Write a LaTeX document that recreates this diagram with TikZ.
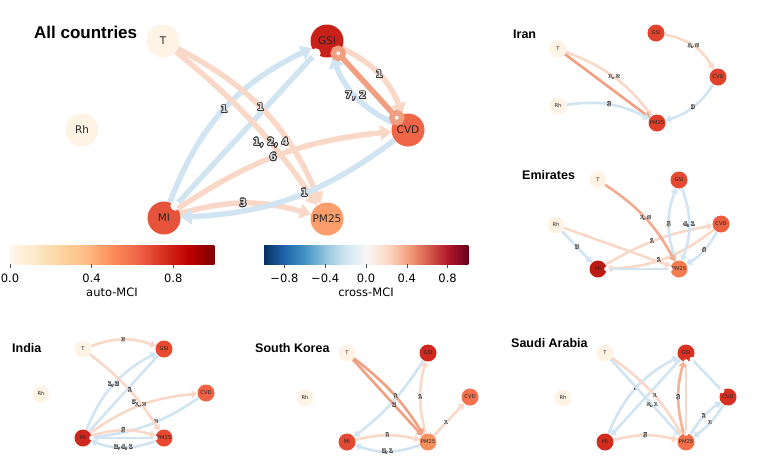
\documentclass[tikz,border=0pt]{standalone}
\usepackage{fontspec}
\setmainfont{DejaVu Sans}
\newfontfamily\titlefont{Liberation Sans}
\usepackage{contour}
\usetikzlibrary{arrows.meta}

% node and link colours
\definecolor{nodecream}{RGB}{254,243,228}
\definecolor{linkblue}{RGB}{208,228,241}
\definecolor{linkorange}{RGB}{250,216,199}
\definecolor{linkdark}{RGB}{240,160,128}
\definecolor{allGSI}{RGB}{200,33,26}
\definecolor{allCVD}{RGB}{239,101,72}
\definecolor{allMI}{RGB}{229,83,58}
\definecolor{allPM}{RGB}{252,158,108}
\definecolor{irGSI}{RGB}{224,66,44}
\definecolor{irCVD}{RGB}{224,66,44}
\definecolor{irPM}{RGB}{222,62,42}
\definecolor{emGSI}{RGB}{227,74,51}
\definecolor{emCVD}{RGB}{236,94,64}
\definecolor{emMI}{RGB}{190,26,20}
\definecolor{emPM}{RGB}{245,124,78}
\definecolor{inGSI}{RGB}{232,74,48}
\definecolor{inCVD}{RGB}{240,96,69}
\definecolor{inMI}{RGB}{204,40,30}
\definecolor{inPM}{RGB}{232,72,47}
\definecolor{krGSI}{RGB}{208,40,30}
\definecolor{krCVD}{RGB}{244,113,80}
\definecolor{krMI}{RGB}{227,74,51}
\definecolor{krPM}{RGB}{248,144,94}
\definecolor{saGSI}{RGB}{217,50,35}
\definecolor{saCVD}{RGB}{216,48,32}
\definecolor{saMI}{RGB}{210,44,31}
\definecolor{saPM}{RGB}{244,111,74}
% colour bar stops
\definecolor{orrd0}{RGB}{255,247,236}
\definecolor{orrd1}{RGB}{254,232,200}
\definecolor{orrd2}{RGB}{253,212,158}
\definecolor{orrd3}{RGB}{253,187,132}
\definecolor{orrd4}{RGB}{252,141,89}
\definecolor{orrd5}{RGB}{239,101,72}
\definecolor{orrd6}{RGB}{215,48,31}
\definecolor{orrd7}{RGB}{190,0,0}
\definecolor{orrd8}{RGB}{127,0,0}
\definecolor{rdbu0}{RGB}{5,48,97}
\definecolor{rdbu1}{RGB}{33,102,172}
\definecolor{rdbu2}{RGB}{67,147,195}
\definecolor{rdbu3}{RGB}{146,197,222}
\definecolor{rdbu4}{RGB}{209,229,240}
\definecolor{rdbu5}{RGB}{247,247,247}
\definecolor{rdbu6}{RGB}{253,219,199}
\definecolor{rdbu7}{RGB}{244,165,130}
\definecolor{rdbu8}{RGB}{214,96,77}
\definecolor{rdbu9}{RGB}{178,24,43}
\definecolor{rdbu10}{RGB}{103,0,31}

\newcommand{\edgetxt}[1]{{\contourlength{0.7pt}\contour{black!80}{\textcolor{black!12}{#1}}}}
\newcommand{\smalltxt}[1]{{\contourlength{0.3pt}\contour{black!70}{\textcolor{black!25}{#1}}}}

\tikzset{
  varnode/.style={circle, inner sep=0pt, minimum size=33pt, text=black!85,
    font=\fontsize{10.5}{12}\selectfont},
  smallvar/.style={circle, inner sep=0pt, minimum size=17pt, text=black!85,
    font=\fontsize{5.2}{6}\selectfont},
  bigedge/.style={line width=5.5pt, -{Triangle[length=11pt,width=15pt]}},
  bigline/.style={line width=5.5pt},
  smalledge/.style={line width=2.6pt, -{Triangle[length=5.5pt,width=7.5pt]}},
  smallline/.style={line width=2.6pt},
  biglab/.style={inner sep=0pt, font=\bfseries\fontsize{10}{12}\selectfont},
  smalllab/.style={inner sep=0pt, font=\bfseries\fontsize{5.2}{6}\selectfont},
  odot/.style={circle, fill=white, inner sep=0pt, minimum size=10pt},
  sodot/.style={circle, fill=white, inner sep=0pt, minimum size=5pt},
  paneltitle/.style={anchor=west, inner sep=0pt,
    font=\titlefont\bfseries\fontsize{12.5}{14}\selectfont},
  ticklab/.style={inner sep=0pt, font=\fontsize{11.5}{13}\selectfont}
}

\begin{document}
\begin{tikzpicture}[x=1pt, y=-1pt]
\useasboundingbox (0,0) rectangle (764,456);

% ── All countries ───────────────────────────────────────────────
\node[paneltitle, font=\titlefont\bfseries\fontsize{17}{20}\selectfont] (tAll) at (34,32) {All countries};
\foreach \n/\x/\y/\c in {T/163/41/nodecream, GSI/327/41/allGSI, Rh/82/130/nodecream,
    CVD/408/130/allCVD, MI/164/218/allMI, PM25/327/219/allPM}
  \node[varnode, fill=\c] (m\n) at (\x,\y) {\n};

\draw[bigedge, linkblue] (mMI) to[bend left=22] node[biglab] (lm1) {\edgetxt{1}} (mGSI);
\draw[bigline, linkblue] (mMI) -- (mGSI) node[odot, at start] (om1) {} node[odot, at end] (om2) {};
\draw[bigedge, linkblue] (mCVD) to[bend left=22] node[biglab] (lm3) {\edgetxt{7, 2}} (mGSI);
\draw[bigedge, linkorange] (mT) to[bend left=20] node[biglab, pos=0.47] (lm4) {\edgetxt{1}} (mPM25);
\draw[bigedge, linkorange] (mT) to[bend left=8] node[biglab, pos=0.64] (lm5) {\edgetxt{1, 2, 4}} (mPM25);
\draw[bigedge, linkorange] (mMI) to[bend left=14] node[biglab, pos=0.47] (lm6) {\edgetxt{6}} (mCVD);
\draw[bigedge, linkorange] (mMI) to[bend left=16] node[biglab, pos=0.48] (lm7) {\edgetxt{3}} (mPM25);
\draw[bigedge, linkblue] (mCVD) to[bend left=17] node[biglab, pos=0.45] (lm2) {\edgetxt{1}} (mMI);
\draw[bigedge, linkorange] (mGSI) to[bend left=22] node[biglab] (lm8) {\edgetxt{1}} (mCVD);
\draw[bigline, linkdark] (mGSI) -- (mCVD) node[odot, draw=linkdark, at start] (om3) {} node[odot, draw=linkdark, at end] (om4) {};

% ── colour bars ─────────────────────────────────────────────────
\foreach \i [evaluate=\i as \j using int(\i+1)] in {0,...,7}
  \shade[left color=orrd\i, right color=orrd\j] ({10+25.5*\i},245) rectangle ({10.4+25.5*\j},264);
\foreach \v/\t [count=\k] in {0/0.0, 0.4/0.4, 0.8/0.8} {
  \draw[black!70, line width=0.6pt] ({10+204*\v},264) -- ({10+204*\v},268);
  \node[ticklab] (ta\k) at ({10+204*\v},278) {\t};
}
\node[ticklab] (cbAuto) at (112,292) {auto-MCI};

\foreach \i [evaluate=\i as \j using int(\i+1)] in {0,...,9}
  \shade[left color=rdbu\i, right color=rdbu\j] ({264+20.4*\i},245) rectangle ({264.4+20.4*\j},264);
\foreach \v/\t [count=\k] in {-0.8/−0.8, -0.4/−0.4, 0/0.0, 0.4/0.4, 0.8/0.8} {
  \draw[black!70, line width=0.6pt] ({366+102*\v},264) -- ({366+102*\v},268);
  \node[ticklab] (tc\k) at ({366+102*\v},278) {\t};
}
\node[ticklab] (cbCross) at (366,292) {cross-MCI};

% ── Iran ────────────────────────────────────────────────────────
\node[paneltitle] (tIran) at (513,34) {Iran};
\foreach \n/\x/\y/\c in {T/558/49/nodecream, GSI/656/33/irGSI, CVD/718/77/irCVD,
    Rh/558/106/nodecream, PM25/657/123/irPM}
  \node[smallvar, fill=\c] (i\n) at (\x,\y) {\n};
\draw[smalledge, linkorange] (iT) to[bend left=16] node[smalllab] (li1) {\smalltxt{1, 2}} (iPM25);
\draw[smalledge, linkdark] (iT) -- (iPM25);
\draw[smalledge, linkblue] (iRh) to[bend left=18] node[smalllab] (li2) {\smalltxt{3}} (iPM25);
\draw[smalledge, linkorange] (iGSI) to[bend left=25] node[smalllab] (li3) {\smalltxt{3, 6}} (iCVD);
\draw[smalledge, linkblue] (iCVD) to[bend left=20] node[smalllab] (li4) {\smalltxt{3}} (iPM25);

% ── Emirates ────────────────────────────────────────────────────
\node[paneltitle] (tEmirates) at (522,175) {Emirates};
\begin{scope}[shift={(598,180)}]
\foreach \n/\x/\y/\c in {T/0/0/nodecream, GSI/81/0/emGSI, Rh/-42/45/nodecream,
    CVD/123/44/emCVD, MI/0/89/emMI, PM25/81/89/emPM}
  \node[smallvar, fill=\c] (e\n) at (\x,\y) {\n};
\end{scope}
\draw[smalledge, linkblue] (eRh) -- node[smalllab] (le1) {\smalltxt{3}} (eMI);
\draw[smalledge, linkorange] (eRh) -- (ePM25);
\draw[smalledge, linkorange] (eMI) to[bend left=10] node[smalllab, pos=0.45] (le2) {\smalltxt{1}} (eCVD);
\draw[smalledge, linkorange] (eCVD) to[bend left=18] node[smalllab, pos=0.55] (le3) {\smalltxt{1}} (eMI);
\draw[smallline, linkblue] (ePM25) -- (eMI) node[sodot, at start] (oe1) {} node[sodot, at end] (oe2) {};
\draw[smalledge, linkblue] (ePM25) to[bend left=20] node[smalllab] (le4) {\smalltxt{3}} (eGSI);
\draw[smalledge, linkblue] (eGSI) to[bend left=20] node[smalllab] (le5) {\smalltxt{4, 1}} (ePM25);
\draw[smalledge, linkblue] (eCVD) to[bend left=15] node[smalllab] (le6) {\smalltxt{4}} (ePM25);
\draw[smalledge, linkdark!80!linkorange] (eT) to[bend left=14] node[smalllab] (le7) {\smalltxt{1, 6}} (ePM25);

% ── India ───────────────────────────────────────────────────────
\node[paneltitle] (tIndia) at (12,348) {India};
\begin{scope}[shift={(83,349)}]
\foreach \n/\x/\y/\c in {T/0/0/nodecream, GSI/81/0/inGSI, Rh/-42/45/nodecream,
    CVD/123/44/inCVD, MI/0/89/inMI, PM25/81/89/inPM}
  \node[smallvar, fill=\c] (n\n) at (\x,\y) {\n};
\end{scope}
\draw[smalledge, linkorange] (nT) to[bend left=20] node[smalllab] (ln1) {\smalltxt{3}} (nGSI);
\draw[smalledge, linkblue] (nMI) to[bend left=20] node[smalllab] (ln2) {\smalltxt{1, 2}} (nGSI);
\draw[smallline, linkblue] (nGSI) -- (nMI);
\draw[smalledge, linkblue] (nCVD) to[bend left=14] node[smalllab, pos=0.42] (ln3) {\smalltxt{3}} (nMI);
\draw[smalledge, linkorange] (nT) to[bend left=10] node[smalllab, pos=0.52] (ln4) {\smalltxt{1}} (nPM25);
\draw[smalledge, linkorange] (nMI) to[bend left=15] node[smalllab, pos=0.5] (ln5) {\smalltxt{1, 2}}
  node[smalllab, pos=0.43, yshift=6pt] (ln6) {\smalltxt{2}} (nCVD);
\draw[smalledge, linkorange] (nMI) to[bend left=16] node[smalllab] (ln7) {\smalltxt{3}} (nPM25);
\draw[smallline, linkblue] (nPM25) -- (nMI) node[sodot, at start] (on1) {} node[sodot, at end] (on2) {};
\draw[smalledge, linkblue] (nPM25) to[bend left=20] node[smalllab] (ln8) {\smalltxt{2, 4, 1}} (nMI);

% ── South Korea ─────────────────────────────────────────────────
\node[paneltitle] (tKorea) at (255,348) {South Korea};
\begin{scope}[shift={(347,353)}]
\foreach \n/\x/\y/\c in {T/0/0/nodecream, GSI/81/0/krGSI, Rh/-42/45/nodecream,
    CVD/123/44/krCVD, MI/0/89/krMI, PM25/81/89/krPM}
  \node[smallvar, fill=\c] (k\n) at (\x,\y) {\n};
\end{scope}
\draw[smalledge, linkblue] (kGSI) to[bend left=10] (kMI);
\draw[smalledge, linkorange] (kPM25) to[bend left=15] node[smalllab] (lk1) {\smalltxt{1}} (kGSI);
\draw[smalledge, linkorange] (kPM25) -- node[smalllab, pos=0.4] (lk2) {\smalltxt{1}} (kCVD);
\draw[smalledge, linkorange] (kMI) to[bend left=14] node[smalllab] (lk3) {\smalltxt{1}} (kPM25);
\draw[smalledge, linkblue] (kPM25) to[bend left=20] node[smalllab] (lk4) {\smalltxt{3, 1}} (kMI);
\draw[smalledge, linkdark] (kT) to[bend left=10] node[smalllab, pos=0.55] (lk5) {\smalltxt{1}} (kPM25);
\draw[smalledge, linkdark] (kT) -- node[smalllab, pos=0.6] (lk6) {\smalltxt{2}} (kPM25);

% ── Saudi Arabia ────────────────────────────────────────────────
\node[paneltitle] (tSaudi) at (511,343) {Saudi Arabia};
\begin{scope}[shift={(605,353)}]
\foreach \n/\x/\y/\c in {T/0/0/nodecream, GSI/81/0/saGSI, Rh/-42/45/nodecream,
    CVD/123/44/saCVD, MI/0/89/saMI, PM25/81/89/saPM}
  \node[smallvar, fill=\c] (s\n) at (\x,\y) {\n};
\end{scope}
\draw[smalledge, linkblue] (sMI) to[bend left=20] node[smalllab] (ls1) {\smalltxt{1}} (sGSI);
\draw[smalledge, linkblue] (sGSI) -- (sMI);
\draw[smalledge, linkblue] (sT) -- node[smalllab, pos=0.6] (ls2) {\smalltxt{2, 1}} (sPM25);
\draw[smalledge, linkorange] (sT) to[bend left=12] node[smalllab, pos=0.55] (ls3) {\smalltxt{1}} (sPM25);
\draw[smallline, linkblue] (sGSI) -- (sCVD) node[sodot, at start] (os1) {} node[sodot, at end] (os2) {};
\draw[smalledge, linkblue] (sPM25) to[bend left=12] node[smalllab] (ls4) {\smalltxt{1}} (sCVD);
\draw[smalledge, linkblue] (sCVD) to[bend left=12] node[smalllab] (ls5) {\smalltxt{1}} (sPM25);
\draw[smalledge, linkorange] (sMI) to[bend left=14] node[smalllab] (ls6) {\smalltxt{3}} (sPM25);
\draw[smallline, linkorange] (sGSI) -- (sPM25) node[sodot, at start] (os3) {} node[sodot, at end] (os4) {};
\draw[smalledge, linkdark!70!linkorange] (sPM25) to[bend left=15] node[smalllab] (ls7) {\smalltxt{3}} (sGSI);

\end{tikzpicture}
\end{document}
